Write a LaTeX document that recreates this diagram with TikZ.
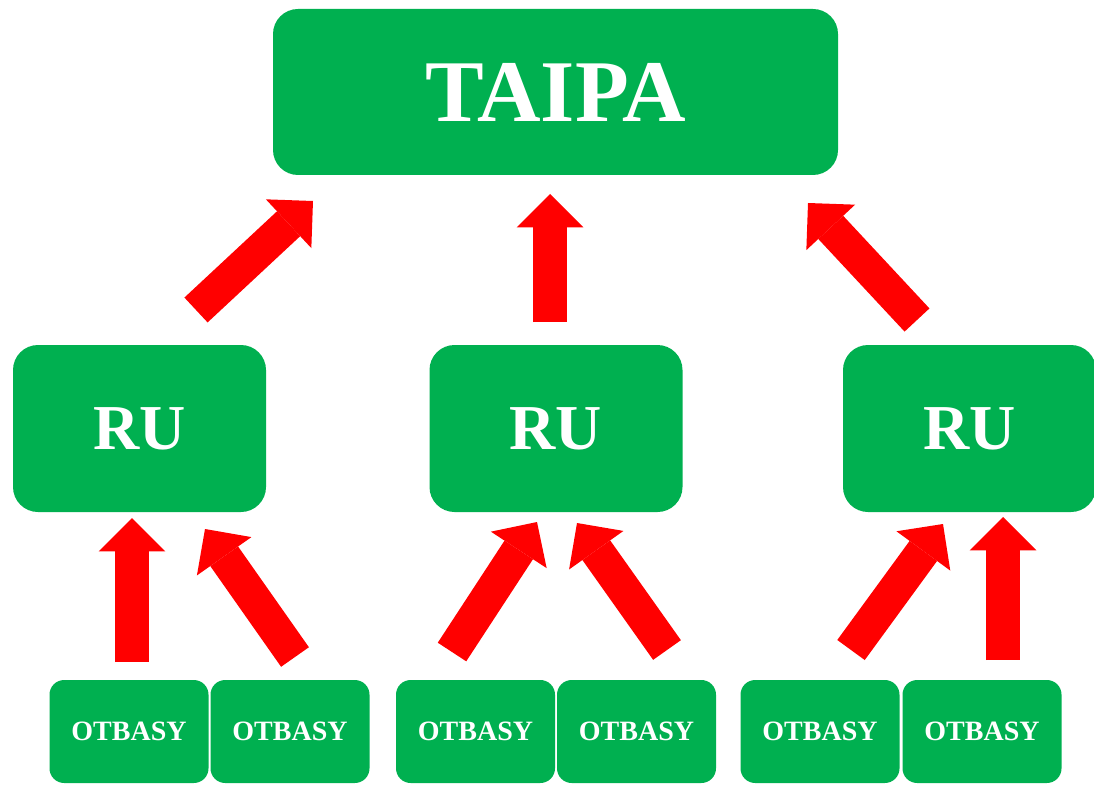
\documentclass[tikz,border=0pt]{standalone}
\usepackage{fontspec}
\setmainfont{Liberation Serif}
\usetikzlibrary{arrows.meta}
\definecolor{boxgreen}{HTML}{00B050}
\definecolor{arrred}{HTML}{FF0000}
\begin{document}
\begin{tikzpicture}[x=0.75pt,y=-0.75pt,
  gbox/.style={fill=boxgreen, text=white, inner sep=0pt, anchor=center},
  topbox/.style={gbox, rounded corners=18.75pt, minimum width=423.75pt, minimum height=124.5pt, font=\fontsize{66pt}{70pt}\selectfont\bfseries},
  rubox/.style={gbox, rounded corners=18.75pt, minimum width=189.75pt, minimum height=125.25pt, font=\fontsize{48pt}{52pt}\selectfont\bfseries},
  obox/.style={gbox, rounded corners=11pt, minimum width=119.25pt, minimum height=77.25pt, font=\fontsize{21pt}{24pt}\selectfont\bfseries},
  bigarrow/.style={draw=arrred, line width=25.5pt, line cap=butt, -{Triangle[length=25pt,width=50pt,line width=0pt]}}]
\useasboundingbox (0,0) rectangle (1094,798);
% boxes
\node[topbox] (taipa) at (555.5,92) {TAIPA};
\node[rubox] (ru1) at (139.5,428.5) {RU};
\node[rubox] (ru2) at (556,428.5) {RU};
\node[rubox] (ru3) at (969.5,428.5) {RU};
\node[obox] (o1) at (129,731.5) {OTBASY};
\node[obox] (o2) at (290,731.5) {OTBASY};
\node[obox] (o3) at (475.5,731.5) {OTBASY};
\node[obox] (o4) at (636.5,731.5) {OTBASY};
\node[obox] (o5) at (820,731.5) {OTBASY};
\node[obox] (o6) at (982,731.5) {OTBASY};
% arrow ends
\coordinate (a1t) at (196,310);  \coordinate (a1h) at (313,201);
\coordinate (a2t) at (550,322);  \coordinate (a2h) at (550,194);
\coordinate (a3t) at (917,320);  \coordinate (a3h) at (808,203);
\coordinate (b1t) at (132,662);  \coordinate (b1h) at (132,518);
\coordinate (b2t) at (295,657);  \coordinate (b2h) at (205,529);
\coordinate (b3t) at (452,652);  \coordinate (b3h) at (537,522);
\coordinate (b4t) at (667,650);  \coordinate (b4h) at (577,523);
\coordinate (b5t) at (851,650);  \coordinate (b5h) at (943,524);
\coordinate (b6t) at (1003,660); \coordinate (b6h) at (1003,517);
% arrows
\draw[bigarrow] (a1t) -- (a1h);
\draw[bigarrow] (a2t) -- (a2h);
\draw[bigarrow] (a3t) -- (a3h);
\draw[bigarrow] (b1t) -- (b1h);
\draw[bigarrow] (b2t) -- (b2h);
\draw[bigarrow] (b3t) -- (b3h);
\draw[bigarrow] (b4t) -- (b4h);
\draw[bigarrow] (b5t) -- (b5h);
\draw[bigarrow] (b6t) -- (b6h);
\end{tikzpicture}
\end{document}
